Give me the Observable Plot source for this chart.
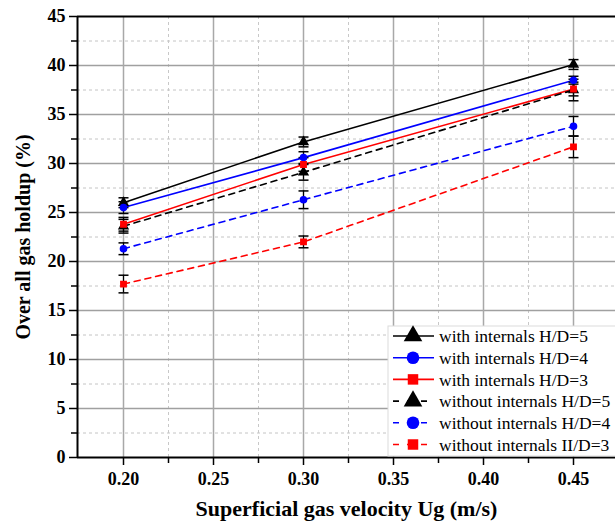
<!DOCTYPE html>
<html><head><meta charset="utf-8">
<script src="https://cdn.jsdelivr.net/npm/d3@7"></script>
<script src="https://cdn.jsdelivr.net/npm/@observablehq/plot@0.6"></script>
<style>
body{margin:0;background:#fff;}
#wrap{position:relative;width:615px;height:529px;overflow:hidden;font-family:"Liberation Serif","Times New Roman",serif;}
#wrap svg{position:absolute;left:0;top:0;}
</style></head><body><div id="wrap"></div>
<script>
// ---- data ----
const velocities = [0.20, 0.30, 0.45];
const seriesNames = [
  "with internals H/D=5",
  "with internals H/D=4",
  "with internals H/D=3",
  "without internals H/D=5",
  "without internals H/D=4",
  "without internals II/D=3"
];
const seriesColors = ["black", "blue", "red", "black", "blue", "red"];
const seriesSymbols = ["triangle", "circle", "square", "triangle", "circle", "square"];
const seriesDashed = [false, false, false, true, true, true];
const holdup = [
  [26.0, 32.2, 40.1],
  [25.5, 30.6, 38.5],
  [23.8, 29.9, 37.6],
  [23.6, 29.1, 37.5],
  [21.3, 26.3, 33.8],
  [17.7, 22.0, 31.7]
];
const errors = [
  [0.5, 0.5, 0.5],
  [0.6, 0.6, 0.4],
  [0.7, 0.7, 0.7],
  [0.7, 0.8, 1.1],
  [0.6, 0.9, 1.0],
  [0.9, 0.6, 1.1]
];
const yMajor = [0, 5, 10, 15, 20, 25, 30, 35, 40, 45];
const yMinor = [2.5, 7.5, 12.5, 17.5, 22.5, 27.5, 32.5, 37.5, 42.5];
const xMajor = [0.20, 0.25, 0.30, 0.35, 0.40, 0.45];
const xMinor = [0.225, 0.275, 0.325, 0.375, 0.425];
const xLabel = "Superficial gas velocity Ug (m/s)";
const yLabel = "Over all gas holdup (%)";

// ---- table ----
const rows = [];
seriesNames.forEach((s, i) => velocities.forEach((v, j) => rows.push({
  series: s, x: v, y: holdup[i][j], e: errors[i][j],
  color: seriesColors[i], symbol: seriesSymbols[i], dashed: seriesDashed[i]
})));

const capSymbol = {draw(ctx, size) { const r = Math.sqrt(size / Math.PI); ctx.moveTo(-r, 0); ctx.lineTo(r, 0); }};
const W = 615, H = 529, ML = 77, MT = 16, MB = 72;
const xDomain = [0.20 - 46 / 1800, 0.45 + 42 / 1800];
const serif = "'Liberation Serif', 'Times New Roman', serif";

const chart = Plot.plot({
  width: W, height: H,
  marginLeft: ML, marginRight: 0, marginTop: MT, marginBottom: MB,
  x: {domain: xDomain},
  y: {domain: [0, 45]},
  color: {type: "identity"},
  symbol: {type: "identity"},
  style: {fontFamily: serif, fontSize: "18px", fontWeight: "bold", background: "white", overflow: "visible"},
  marks: [
    Plot.ruleY(yMinor, {stroke: "#c4c4c4", strokeDasharray: "3,3", strokeWidth: 1}),
    Plot.ruleX(xMinor, {stroke: "#c8c8c8", strokeDasharray: "3,3", strokeWidth: 1}),
    Plot.ruleY(yMajor.filter(d => d > 0 && d < 45), {stroke: "#a0a0a0", strokeWidth: 1.5}),
    Plot.ruleX(xMajor, {stroke: "#a8a8a8", strokeWidth: 1.5}),
    Plot.axisY({ticks: yMinor, tickSize: 6, tickFormat: () => "", strokeWidth: 1.5, label: null}),
    Plot.axisY({ticks: yMajor, tickSize: 8, tickPadding: 4, tickFormat: d3.format("d"), strokeWidth: 1.5, label: null, fontSize: 18, fontWeight: "bold"}),
    Plot.axisX({ticks: xMinor, tickSize: 6, tickFormat: () => "", strokeWidth: 1.5, label: null}),
    Plot.axisX({ticks: xMajor, tickSize: 8, tickPadding: 7, tickFormat: d3.format(".2f"), strokeWidth: 1.5, label: null, fontSize: 18, fontWeight: "bold"}),
    Plot.ruleY([45], {stroke: "black", strokeWidth: 2}),
    Plot.ruleY([0], {stroke: "black", strokeWidth: 2}),
    Plot.ruleX([xDomain[0]], {stroke: "black", strokeWidth: 2}),
    Plot.line(rows.filter(d => !d.dashed), {x: "x", y: "y", z: "series", stroke: "color", strokeWidth: 1.6}),
    Plot.line(rows.filter(d => d.dashed), {x: "x", y: "y", z: "series", stroke: "color", strokeWidth: 1.6, strokeDasharray: "6,5"}),
    Plot.ruleX(rows, {x: "x", y1: d => d.y - d.e, y2: d => d.y + d.e, stroke: "black", strokeWidth: 1.2}),
    Plot.dot(rows, {x: "x", y: d => d.y - d.e, symbol: capSymbol, r: 5, stroke: "black", strokeWidth: 1.5, fill: "none"}),
    Plot.dot(rows, {x: "x", y: d => d.y + d.e, symbol: capSymbol, r: 5, stroke: "black", strokeWidth: 1.5, fill: "none"}),
    Plot.dot(rows, {x: "x", y: "y", symbol: "symbol", fill: "color", stroke: "color", r: d => d.symbol === "triangle" ? 7 : d.symbol === "circle" ? 6.3 : 6}),
    Plot.text([yLabel], {frameAnchor: "left", textAnchor: "middle", dx: -54, rotate: -90, fontSize: 20, fontWeight: "bold"}),
    Plot.text([xLabel], {frameAnchor: "bottom", textAnchor: "middle", dy: 58, fontSize: 22, fontWeight: "bold"})
  ]
});
const wrap = document.getElementById("wrap");
wrap.appendChild(chart);

// ---- legend overlay ----
const lg = d3.select(wrap).append("svg").attr("width", W).attr("height", H)
  .style("font-family", serif);
const lx = 388, ly = 326, rowH = 21.7;
lg.append("rect").attr("x", lx).attr("y", ly).attr("width", W - lx + 2).attr("height", 457 - ly - 1)
  .attr("fill", "white").attr("stroke", "#dcdcdc").attr("stroke-width", 1);
const symGen = {triangle: d3.symbolTriangle, circle: d3.symbolCircle, square: d3.symbolSquare};
const symSize = {triangle: 150, circle: 125, square: 110};
seriesNames.forEach((name, i) => {
  const cy = ly + 10 + i * rowH;
  const g = lg.append("g");
  g.append("line").attr("x1", lx + 5).attr("x2", lx + 46).attr("y1", cy).attr("y2", cy)
    .attr("stroke", seriesColors[i]).attr("stroke-width", 1.6)
    .attr("stroke-dasharray", seriesDashed[i] ? "6,8" : null);
  g.append("path").attr("d", d3.symbol(symGen[seriesSymbols[i]], symSize[seriesSymbols[i]])())
    .attr("transform", `translate(${lx + 25},${cy})`).attr("fill", seriesColors[i]);
  g.append("text").attr("x", lx + 51).attr("y", cy).attr("dy", "0.35em")
    .attr("font-size", 17.5).attr("fill", "black").text(name);
});
</script>
</body></html>
